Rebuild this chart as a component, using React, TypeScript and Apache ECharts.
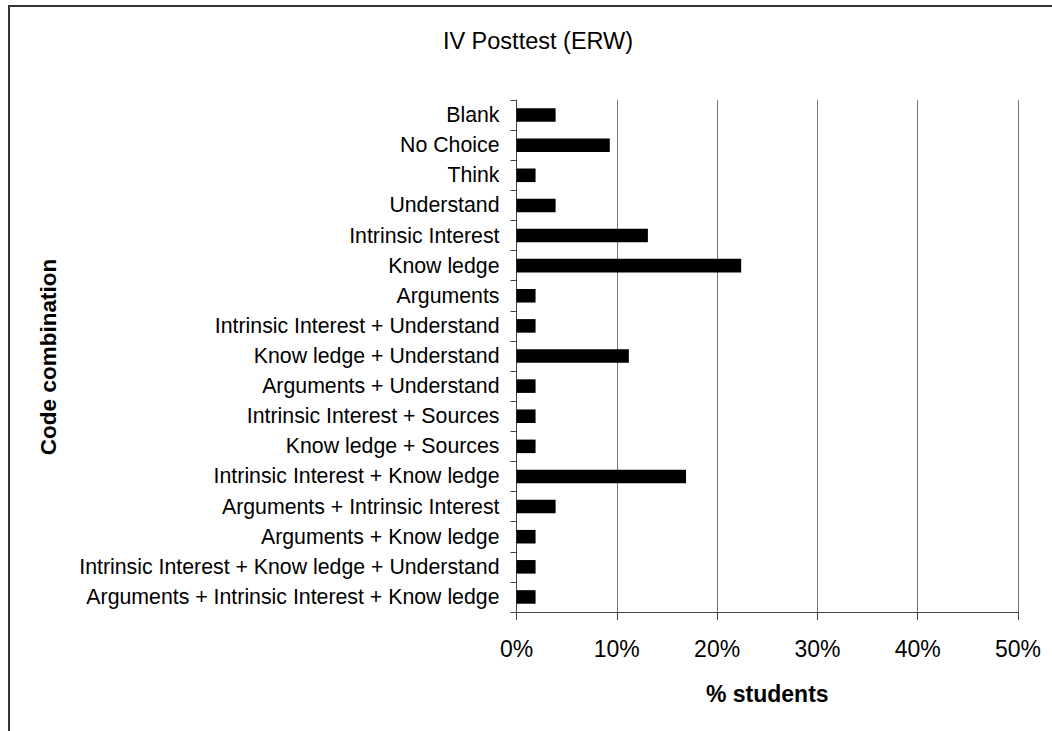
import React, { useEffect, useRef } from "react";
import * as echarts from "echarts";

const categories = [
  "Blank",
  "No Choice",
  "Think",
  "Understand",
  "Intrinsic Interest",
  "Know ledge",
  "Arguments",
  "Intrinsic Interest + Understand",
  "Know ledge + Understand",
  "Arguments + Understand",
  "Intrinsic Interest + Sources",
  "Know ledge + Sources",
  "Intrinsic Interest + Know ledge",
  "Arguments + Intrinsic Interest",
  "Arguments + Know ledge",
  "Intrinsic Interest + Know ledge + Understand",
  "Arguments + Intrinsic Interest + Know ledge",
];

const percentStudents = [
  3.9, 9.3, 1.9, 3.9, 13.1, 22.4, 1.9, 1.9, 11.2, 1.9, 1.9, 1.9, 16.9, 3.9, 1.9, 1.9, 1.9,
];

const xTicks = [0, 10, 20, 30, 40, 50];

const titleText = "IV Posttest (ERW)";
const xAxisName = "% students";
const yAxisName = "Code combination";

const FONT = "'Liberation Sans', Arial, sans-serif";

export default function App() {
  const ref = useRef<HTMLDivElement>(null);

  useEffect(() => {
    if (!ref.current) return;
    const chart = echarts.init(ref.current, undefined, { renderer: "svg" });
    chart.setOption({
      animation: false,
      backgroundColor: "#ffffff",
      textStyle: { fontFamily: FONT },
      title: {
        text: titleText,
        left: 533,
        top: 24,
        textAlign: "center",
        textStyle: { fontFamily: FONT, fontSize: 23.5, fontWeight: "normal", color: "#000" },
      },
      graphic: [
        {
          type: "rect",
          shape: { x: 9, y: 6, width: 1200, height: 900 },
          style: { fill: "none", stroke: "#333", lineWidth: 2 },
          silent: true,
        },
        {
          type: "text",
          x: 48,
          y: 357,
          rotation: Math.PI / 2,
          style: {
            text: yAxisName,
            fontFamily: FONT,
            fontSize: 22.5,
            fontWeight: "bold",
            fill: "#000",
            align: "center",
            verticalAlign: "middle",
          },
        },
      ],
      grid: { left: 516.5, right: 34, top: 100, bottom: 119, containLabel: false },
      xAxis: {
        type: "value",
        min: xTicks[0],
        max: xTicks[xTicks.length - 1],
        interval: 10,
        name: xAxisName,
        nameLocation: "middle",
        nameGap: 70,
        nameTextStyle: { fontFamily: FONT, fontSize: 23, fontWeight: "bold", color: "#000" },
        axisLine: { show: true, lineStyle: { color: "#444", width: 1 } },
        axisTick: { show: true, length: 8, lineStyle: { color: "#444" } },
        axisLabel: {
          formatter: (v: number) => `${v}%`,
          fontFamily: FONT,
          fontSize: 23,
          color: "#000",
          margin: 25,
        },
        splitLine: { show: true, lineStyle: { color: "#777", width: 1 } },
      },
      yAxis: {
        type: "category",
        data: categories,
        inverse: true,
        axisLine: { show: true, lineStyle: { color: "#444", width: 1 } },
        axisTick: { show: true, length: 6, alignWithLabel: false, lineStyle: { color: "#444" } },
        axisLabel: {
          fontFamily: FONT,
          fontSize: 21.3,
          color: "#000",
          margin: 17,
          interval: 0,
        },
        splitLine: { show: false },
      },
      series: [
        {
          type: "bar",
          data: percentStudents,
          barCategoryGap: "55%",
          itemStyle: { color: "#000" },
        },
      ],
    });
    return () => chart.dispose();
  }, []);

  return (
    <div
      ref={ref}
      style={{ position: "absolute", left: 0, top: 0, width: 1052, height: 731 }}
    />
  );
}
